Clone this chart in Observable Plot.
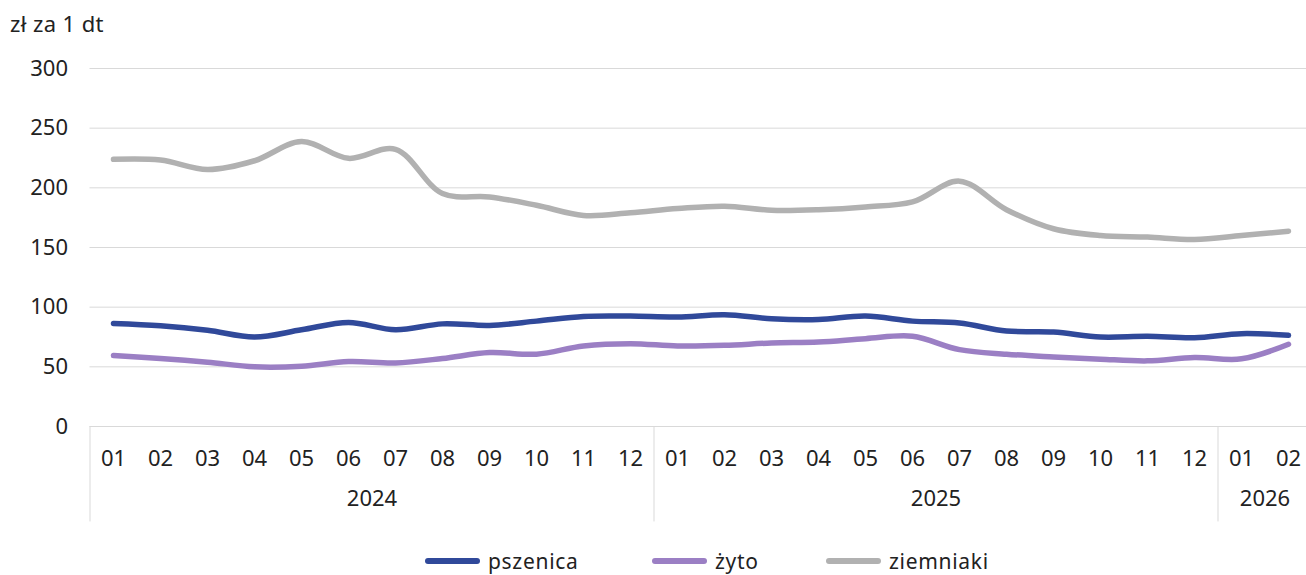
<!DOCTYPE html>
<html>
<head>
<meta charset="utf-8">
<script src="https://cdn.jsdelivr.net/npm/d3@7"></script>
<script src="https://cdn.jsdelivr.net/npm/@observablehq/plot@0.6"></script>
<style>
  html, body { margin: 0; padding: 0; background: #fff; }
  body { font-family: "Noto Sans", Roboto, sans-serif; color: #222; width: 1306px; height: 575px; overflow: hidden; }
  #unit { height: 40px; font-size: 22px; line-height: 1; padding: 12px 0 0 10px; box-sizing: border-box; letter-spacing: 0.4px; }
  #chart svg { display: block; }
  #legend { position: relative; height: 45px; }
  #legend .item { position: absolute; top: 20px; height: 22px; display: flex; align-items: center; font-size: 21px; line-height: 22px; letter-spacing: 0.7px; }
  #legend .sw { width: 55px; height: 6px; border-radius: 3px; margin-right: 8px; }
</style>
</head>
<body>
<div id="unit">zł za 1 dt</div>
<div id="chart"></div>
<div id="legend"></div>
<script>
// categories (year-month)
const periods = ["2024-01","2024-02","2024-03","2024-04","2024-05","2024-06","2024-07","2024-08","2024-09","2024-10","2024-11","2024-12",
                 "2025-01","2025-02","2025-03","2025-04","2025-05","2025-06","2025-07","2025-08","2025-09","2025-10","2025-11","2025-12",
                 "2026-01","2026-02"];
const seriesNames = ["pszenica", "żyto", "ziemniaki"];
const seriesColors = ["#30499a", "#9b7fc4", "#b1b1b1"];
// values, zł per 1 dt
const pszenica = [86.4, 84.4, 80.6, 75.0, 81.0, 87.2, 81.0, 86.0, 84.7, 88.3, 92.2, 92.5,
                  91.7, 93.6, 90.3, 89.7, 92.5, 88.3, 86.7, 80.0, 79.2, 75.0, 75.6, 74.4,
                  77.8, 76.4];
const zyto     = [59.4, 57.0, 53.9, 50.0, 50.5, 54.4, 53.3, 57.0, 62.0, 60.6, 67.5, 69.4,
                  67.5, 68.0, 70.0, 70.8, 73.6, 75.6, 64.4, 60.6, 58.3, 56.4, 55.0, 57.8,
                  56.7, 68.9];
const ziemniaki = [223.9, 223.3, 215.4, 222.7, 238.8, 224.7, 232.3, 195.2, 192.4, 185.4, 176.9, 179.2,
                   182.6, 184.6, 181.2, 181.7, 184.0, 188.2, 205.6, 181.7, 165.7, 160.0, 158.7, 156.7,
                   160.0, 163.7];
const yTicks = [0, 50, 100, 150, 200, 250, 300];

const font = "'Noto Sans', Roboto, sans-serif";
const idx = periods.map((p, i) => i);
const monthLabel = i => periods[i].slice(5);
const yearOf = i => periods[i].slice(0, 4);

const rows = [];
[[seriesNames[0], pszenica], [seriesNames[1], zyto], [seriesNames[2], ziemniaki]].forEach(([name, vals]) => {
  vals.forEach((v, i) => rows.push({series: name, i, value: v}));
});

// year groups
const yearGroups = d3.groups(idx, yearOf).map(([year, is]) => ({
  year, mid: d3.mean(is), start: d3.min(is) - 0.5, end: d3.max(is) + 0.5
}));
const separators = Array.from(new Set(yearGroups.flatMap(g => [g.start, g.end])));

const chart = Plot.plot({
  width: 1306,
  height: 490,
  marginTop: 28,
  marginBottom: 104,
  marginLeft: 89.5,
  marginRight: 0,
  style: {fontFamily: font, fontSize: "22px", color: "#222", background: "#fff"},
  x: {domain: [-0.5, periods.length - 0.5], range: [89.5, 89.5 + 47 * periods.length]},
  y: {domain: [0, 300]},
  color: {domain: seriesNames, range: seriesColors},
  marks: [
    Plot.gridY(yTicks, {stroke: "#d9d9d9", strokeOpacity: 1, strokeWidth: 1}),
    Plot.axisY(yTicks, {tickSize: 0, tickPadding: 22, label: null, fontSize: 22}),
    Plot.axisX(idx, {tickSize: 0, tickPadding: 24, tickFormat: monthLabel, label: null, fontSize: 22}),
    Plot.ruleX(separators, {y1: 0, y2: -80, stroke: "#d9d9d9", strokeWidth: 1}),
    Plot.text(yearGroups, {x: "mid", frameAnchor: "bottom", dy: 79, text: "year", fontSize: 22, fill: "#222"}),
    Plot.line(rows, {x: "i", y: "value", stroke: "series", z: "series", curve: "catmull-rom",
                     strokeWidth: 5.5, strokeLinecap: "round", strokeLinejoin: "round"})
  ]
});
document.getElementById("chart").appendChild(chart);

// legend
const legend = document.getElementById("legend");
const lefts = [425, 652, 826];
seriesNames.forEach((name, k) => {
  const item = document.createElement("div");
  item.className = "item";
  item.style.left = lefts[k] + "px";
  const sw = document.createElement("span");
  sw.className = "sw";
  sw.style.background = seriesColors[k];
  const t = document.createElement("span");
  t.textContent = name;
  item.appendChild(sw);
  item.appendChild(t);
  legend.appendChild(item);
});
</script>
</body>
</html>
